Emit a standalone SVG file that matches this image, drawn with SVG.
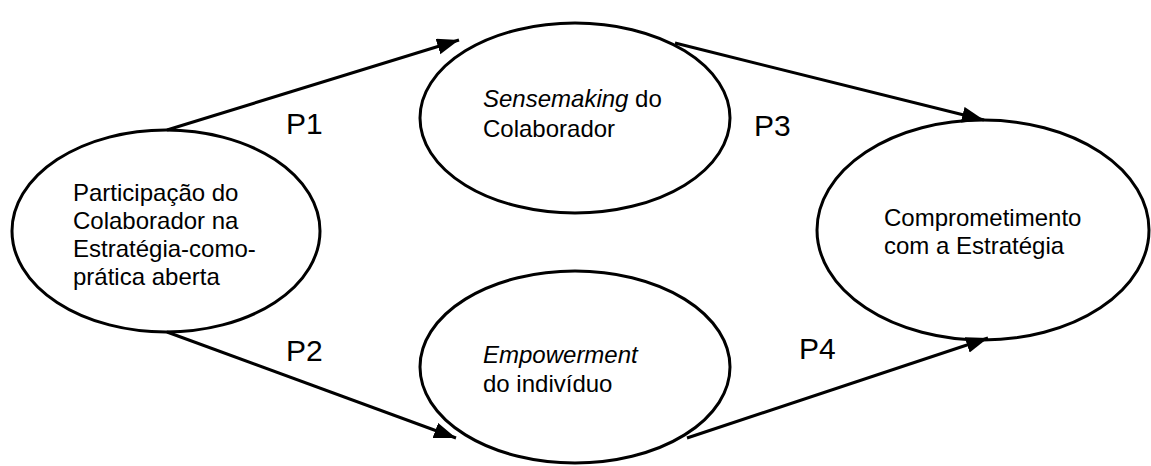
<svg xmlns="http://www.w3.org/2000/svg" width="1151" height="466" viewBox="0 0 1151 466">
  <style>
    .node { fill: #ffffff; stroke: #000000; stroke-width: 3; }
    .label { font-family: "Liberation Sans", Arial, sans-serif; font-size: 24px; fill: #000000; }
    .em { font-style: italic; }
    .plabel { font-family: "Liberation Sans", Arial, sans-serif; font-size: 30px; fill: #000000; }
    .edge { fill: none; stroke: #000000; stroke-width: 3; }
  </style>
  <defs>
    <marker id="arrow" markerUnits="userSpaceOnUse" markerWidth="24" markerHeight="18" refX="22" refY="8" orient="auto">
      <path d="M0,0 L22,8 L0,16 Z" fill="#000000"/>
    </marker>
  </defs>
  <rect width="1151" height="466" fill="#ffffff"/>

  <g id="node-participacao">
    <ellipse class="node" cx="166" cy="231" rx="154" ry="101"/>
    <text class="label" x="73" y="201">Participação do</text>
    <text class="label" x="73" y="229">Colaborador na</text>
    <text class="label" x="73" y="257">Estratégia-como-</text>
    <text class="label" x="73" y="285">prática aberta</text>
  </g>

  <g id="node-sensemaking">
    <ellipse class="node" cx="575" cy="118" rx="155" ry="95"/>
    <text class="label" x="483" y="107"><tspan class="em">Sensemaking</tspan> do</text>
    <text class="label" x="483" y="137">Colaborador</text>
  </g>

  <g id="node-empowerment">
    <ellipse class="node" cx="575" cy="367" rx="155" ry="96"/>
    <text class="label" x="483" y="363"><tspan class="em">Empowerment</tspan></text>
    <text class="label" x="483" y="392">do indivíduo</text>
  </g>

  <g id="node-comprometimento">
    <ellipse class="node" cx="983" cy="230" rx="166" ry="110"/>
    <text class="label" x="884" y="226">Comprometimento</text>
    <text class="label" x="884" y="254">com a Estratégia</text>
  </g>

  <g id="connectors">
    <line class="edge" x1="167" y1="130" x2="459" y2="40" marker-end="url(#arrow)"/>
    <line class="edge" x1="167" y1="332" x2="456" y2="438" marker-end="url(#arrow)"/>
    <line class="edge" x1="675" y1="43" x2="984" y2="120" marker-end="url(#arrow)"/>
    <line class="edge" x1="687" y1="438" x2="988" y2="338" marker-end="url(#arrow)"/>
    <text class="plabel" x="286" y="134">P1</text>
    <text class="plabel" x="286" y="361">P2</text>
    <text class="plabel" x="754" y="136">P3</text>
    <text class="plabel" x="799" y="359">P4</text>
  </g>
</svg>
